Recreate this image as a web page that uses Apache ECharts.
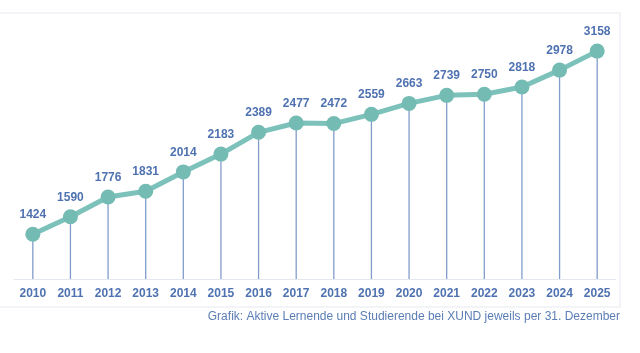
<!DOCTYPE html>
<html>
<head>
<meta charset="utf-8">
<script src="https://cdn.jsdelivr.net/npm/echarts@6/dist/echarts.min.js"></script>
<style>
html, body { margin: 0; padding: 0; background: #fff; }
#chart { width: 640px; height: 353px; }
</style>
</head>
<body>
<div id="chart"></div>
<script>
var years = ['2010', '2011', '2012', '2013', '2014', '2015', '2016', '2017',
    '2018', '2019', '2020', '2021', '2022', '2023', '2024', '2025'];
var lernende = [1424, 1590, 1776, 1831, 2014, 2183, 2389, 2477,
    2472, 2559, 2663, 2739, 2750, 2818, 2978, 3158];
var caption = 'Grafik: Aktive Lernende und Studierende bei XUND jeweils per 31. Dezember';

var myChart = echarts.init(document.getElementById('chart'), null, { renderer: 'canvas' });

var option = {
    animation: false,
    textStyle: { fontFamily: 'Liberation Sans, Arial, sans-serif' },
    grid: { left: 14, right: 24, top: 15, bottom: 74 },
    graphic: [
        {
            type: 'rect',
            shape: { x: -2, y: 13, width: 622, height: 294 },
            style: { fill: 'none', stroke: '#eef1f5', lineWidth: 1.5 }
        },
        {
            type: 'text',
            right: 20,
            top: 311,
            style: {
                text: caption,
                fill: '#5b7db5',
                font: '12px Liberation Sans, Arial, sans-serif'
            }
        }
    ],
    xAxis: {
        type: 'category',
        data: years,
        boundaryGap: true,
        axisLine: { lineStyle: { color: '#e3e7ee', width: 1 } },
        axisTick: { show: false },
        axisLabel: {
            color: '#4f72b0',
            fontWeight: 'bold',
            fontSize: 12,
            margin: 9
        }
    },
    yAxis: {
        type: 'value',
        min: 1000,
        max: 3500,
        show: false,
        splitLine: { show: false }
    },
    series: [
        {
            type: 'bar',
            data: lernende,
            barWidth: 1.3,
            itemStyle: { color: '#829dcb' },
            silent: true
        },
        {
            type: 'line',
            data: lernende,
            symbol: 'circle',
            symbolSize: 15,
            lineStyle: { color: '#7cc2ba', width: 5 },
            itemStyle: { color: '#74bbb3' },
            label: {
                show: true,
                position: 'top',
                distance: 6,
                color: '#4f72b0',
                fontWeight: 'bold',
                fontSize: 12
            },
            z: 3
        }
    ]
};

myChart.setOption(option);
</script>
</body>
</html>
